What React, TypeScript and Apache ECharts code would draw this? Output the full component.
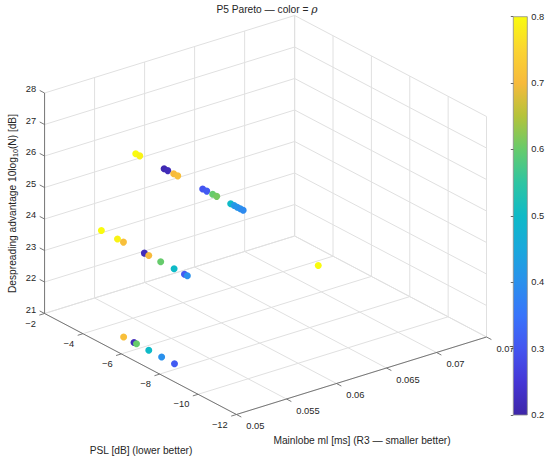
import React, { useEffect, useRef } from "react";
import * as echarts from "echarts";

// ---------- axis ticks ----------
const mainlobeTicks = [0.05, 0.055, 0.06, 0.065, 0.07, 0.075];
const mainlobeTickLabels = ["0.05", "0.055", "0.06", "0.065", "0.07", "0.075"];
const pslTicks = [-12, -10, -8, -6, -4, -2];
const pslTickLabels = ["\u221212", "\u221210", "\u22128", "\u22126", "\u22124", "\u22122"];
const despreadTicks = [21, 22, 23, 24, 25, 26, 27, 28];
const despreadTickLabels = ["21", "22", "23", "24", "25", "26", "27", "28"];
const rhoRange = [0.2, 0.8];

// ---------- data (Pareto points) ----------
const mainlobeMs = [
  0.0519, 0.0519, 0.0519, 0.0519, 0.0519, 0.0519, 0.0519, 0.0519, 0.0519, 0.0519, 0.0519, 0.0519, 0.0519, 0.0519, 0.0519,
  0.0519, 0.0519, 0.0519, 0.0519, 0.0519, 0.0519, 0.0519, 0.0519, 0.0519,
  0.0519, 0.0519, 0.0519, 0.0519, 0.0519, 0.0519,
  0.0727,
];
const pslDb = [
  -5.76, -5.97, -7.24, -7.43, -7.74, -7.95, -9.25, -9.46, -9.77, -9.98, -10.71, -10.89, -11.05, -11.21, -11.36,
  -3.97, -4.81, -5.12, -6.21, -6.44, -7.06, -7.76, -8.3, -8.45,
  -5.13, -5.67, -5.8, -6.44, -7.11, -7.78,
  -4.43,
];
const despreadDb = [
  27.09, 27.09, 27.09, 27.09, 27.09, 27.09, 27.09, 27.09, 27.09, 27.09, 27.09, 27.09, 27.09, 27.09, 27.09,
  24.08, 24.08, 24.08, 24.08, 24.08, 24.08, 24.08, 24.08, 24.08,
  21.07, 21.07, 21.07, 21.07, 21.07, 21.07,
  21.07,
];
const rhoVals = [
  0.8, 0.79, 0.21, 0.22, 0.7, 0.71, 0.3, 0.31, 0.6, 0.61, 0.5, 0.42, 0.41, 0.4, 0.39,
  0.8, 0.79, 0.71, 0.22, 0.7, 0.6, 0.5, 0.31, 0.4,
  0.71, 0.22, 0.6, 0.5, 0.4, 0.31,
  0.8,
];

// parula-like colormap, evenly spaced from rho 0.2 to 0.8
const parula = [
  "#3e26a8", "#4536d6", "#4455f0", "#3874fb", "#2a90ec", "#19a8dc", "#0ebac7",
  "#2ec5a2", "#66cb6c", "#b4c33a", "#f7ba3c", "#fbd431", "#f9fb0e",
];

// ---------- view (MATLAB default 3-D view) ----------
const VIEW_AZ = -37.5;
const VIEW_EL = 30;
const PROJ_KX = 315.2;
const PROJ_KY = 254.6;
const PROJ_CX = 265.55;
const PROJ_CY = 215.0;

const X0 = mainlobeTicks[0];
const X1 = mainlobeTicks[mainlobeTicks.length - 1];
const Y0 = pslTicks[0];
const Y1 = pslTicks[pslTicks.length - 1];
const Z0 = despreadTicks[0];
const Z1 = despreadTicks[despreadTicks.length - 1];

function project(x: number, y: number, z: number): number[] {
  const nx = (x - X0) / (X1 - X0) - 0.5;
  const ny = (y - Y0) / (Y1 - Y0) - 0.5;
  const nz = (z - Z0) / (Z1 - Z0) - 0.5;
  const A = (-VIEW_AZ * Math.PI) / 180;
  const E = (VIEW_EL * Math.PI) / 180;
  const u = PROJ_CX + PROJ_KX * (nx * Math.cos(A) - ny * Math.sin(A));
  const v = PROJ_CY - PROJ_KY * ((nx * Math.sin(A) + ny * Math.cos(A)) * Math.sin(E) + nz * Math.cos(E));
  return [u, v];
}

const FONT = "'Liberation Sans', Arial, Helvetica, sans-serif";
const TEXT = "#262626";
const AXIS_COLOR = "#6b6b6b";
const GRID_COLOR = "#e0e0e0";
const TICK_FONT = 9.3;
const LABEL_FONT = 10.2;

export default function App() {
  const ref = useRef<HTMLDivElement>(null);

  useEffect(() => {
    document.body.style.margin = "0";
    document.body.style.overflow = "hidden";
    if (!ref.current) return;
    const chart = echarts.init(ref.current, undefined, { renderer: "svg" });

    const TY = 0.0254 * (Y1 - Y0);
    const TX = 0.021 * (X1 - X0);

    const gridSegments: number[][] = [];
    mainlobeTicks.forEach((x) => {
      gridSegments.push([x, Y0, Z0, x, Y1, Z0]);
      gridSegments.push([x, Y1, Z0, x, Y1, Z1]);
    });
    pslTicks.forEach((y) => {
      gridSegments.push([X0, y, Z0, X1, y, Z0]);
      gridSegments.push([X1, y, Z0, X1, y, Z1]);
    });
    despreadTicks.forEach((z) => {
      gridSegments.push([X0, Y1, z, X1, Y1, z]);
      gridSegments.push([X1, Y0, z, X1, Y1, z]);
    });

    const axisSegments: number[][] = [
      [X0, Y1, Z0, X0, Y1, Z1],
      [X0, Y0, Z0, X0, Y1, Z0],
      [X0, Y0, Z0, X1, Y0, Z0],
    ];
    despreadTicks.forEach((z) => axisSegments.push([X0, Y1, z, X0, Y1 + TY, z]));
    pslTicks.forEach((y) => axisSegments.push([X0, y, Z0, X0 - TX, y, Z0]));
    mainlobeTicks.forEach((x) => axisSegments.push([x, Y0, Z0, x, Y0 - TY, Z0]));

    const segRender = (color: string, width: number) => (params: any, api: any) => {
      const a = api.coord(project(api.value(0), api.value(1), api.value(2)));
      const b = api.coord(project(api.value(3), api.value(4), api.value(5)));
      return {
        type: "line",
        silent: true,
        shape: { x1: a[0], y1: a[1], x2: b[0], y2: b[1] },
        style: { stroke: color, lineWidth: width },
      };
    };

    const labelRender =
      (labels: string[], dx: number, dy: number, align: string, vAlign: string) => (params: any, api: any) => {
        const p = api.coord(project(api.value(0), api.value(1), api.value(2)));
        return {
          type: "text",
          silent: true,
          x: p[0] + dx,
          y: p[1] + dy,
          style: {
            text: labels[params.dataIndex],
            fill: TEXT,
            fontSize: TICK_FONT,
            fontFamily: FONT,
            align,
            textAlign: align,
            verticalAlign: vAlign,
            textVerticalAlign: vAlign,
          },
        };
      };

    const points = mainlobeMs.map((m, i) => [m, pslDb[i], despreadDb[i], rhoVals[i]]);

    const option: any = {
      animation: false,
      backgroundColor: "#ffffff",
      grid: [
        { left: 0, top: 0, width: 550, height: 462 },
        { left: 513.3, top: 16.7, width: 14, height: 398.3 },
      ],
      xAxis: [
        { type: "value", gridIndex: 0, min: 0, max: 550, show: false },
        { type: "value", gridIndex: 1, min: 0, max: 1, show: false },
      ],
      yAxis: [
        { type: "value", gridIndex: 0, min: 0, max: 462, inverse: true, show: false },
        {
          type: "value",
          gridIndex: 1,
          min: rhoRange[0],
          max: rhoRange[1],
          interval: 0.1,
          position: "right",
          z: 10,
          axisLine: { show: false },
          splitLine: { show: false },
          axisTick: { show: true, inside: true, length: 2.5, lineStyle: { color: "#444", width: 0.8 } },
          axisLabel: { margin: 4, color: TEXT, fontSize: TICK_FONT, fontFamily: FONT },
        },
      ],
      visualMap: {
        type: "continuous",
        show: false,
        min: rhoRange[0],
        max: rhoRange[1],
        dimension: 3,
        seriesIndex: 5,
        inRange: { color: parula },
      },
      graphic: [
        {
          type: "text",
          x: 267,
          y: 9.5,
          silent: true,
          style: {
            text: "P5 Pareto \u2014 color = {i|\u03c1}",
            rich: { i: { fontStyle: "italic", fontSize: LABEL_FONT + 0.5, fontFamily: "'DejaVu Serif', serif", fill: TEXT } },
            fill: TEXT,
            fontSize: LABEL_FONT,
            fontFamily: FONT,
            align: "center",
            textAlign: "center",
            verticalAlign: "middle",
            textVerticalAlign: "middle",
          },
        },
        {
          type: "text",
          x: 12,
          y: 203.5,
          rotation: Math.PI / 2,
          silent: true,
          style: {
            text: "Despreading advantage 10log{s|10}(N) [dB]",
            rich: { s: { fontSize: 7.2, lineHeight: 8, verticalAlign: "bottom", fontFamily: FONT, fill: TEXT } },
            fill: TEXT,
            fontSize: LABEL_FONT,
            lineHeight: 14,
            fontFamily: FONT,
            align: "center",
            textAlign: "center",
            verticalAlign: "middle",
            textVerticalAlign: "middle",
          },
        },
        {
          type: "text",
          x: 141,
          y: 450.7,
          silent: true,
          style: {
            text: "PSL [dB] (lower better)",
            fill: TEXT,
            fontSize: LABEL_FONT,
            fontFamily: FONT,
            align: "center",
            textAlign: "center",
            verticalAlign: "middle",
            textVerticalAlign: "middle",
          },
        },
        {
          type: "text",
          x: 362,
          y: 440,
          silent: true,
          style: {
            text: "Mainlobe ml [ms] (R3 \u2014 smaller better)",
            fill: TEXT,
            fontSize: LABEL_FONT,
            fontFamily: FONT,
            align: "center",
            textAlign: "center",
            verticalAlign: "middle",
            textVerticalAlign: "middle",
          },
        },
      ],
      series: [
        {
          type: "custom",
          name: "grid",
          coordinateSystem: "cartesian2d",
          xAxisIndex: 0,
          yAxisIndex: 0,
          z: 1,
          silent: true,
          data: gridSegments,
          renderItem: segRender(GRID_COLOR, 1),
        },
        {
          type: "custom",
          name: "axes",
          coordinateSystem: "cartesian2d",
          xAxisIndex: 0,
          yAxisIndex: 0,
          z: 2,
          silent: true,
          data: axisSegments,
          renderItem: segRender(AXIS_COLOR, 0.9),
        },
        {
          type: "custom",
          name: "zTickLabels",
          coordinateSystem: "cartesian2d",
          xAxisIndex: 0,
          yAxisIndex: 0,
          z: 3,
          silent: true,
          data: despreadTicks.map((z) => [X0, Y1 + TY, z]),
          renderItem: labelRender(despreadTickLabels, -3.5, -1, "right", "middle"),
        },
        {
          type: "custom",
          name: "pslTickLabels",
          coordinateSystem: "cartesian2d",
          xAxisIndex: 0,
          yAxisIndex: 0,
          z: 3,
          silent: true,
          data: pslTicks.map((y) => [X0 - TX, y, Z0]),
          renderItem: labelRender(pslTickLabels, -3.5, 4, "right", "top"),
        },
        {
          type: "custom",
          name: "mainlobeTickLabels",
          coordinateSystem: "cartesian2d",
          xAxisIndex: 0,
          yAxisIndex: 0,
          z: 3,
          silent: true,
          data: mainlobeTicks.map((x) => [x, Y0 - TY, Z0]),
          renderItem: labelRender(mainlobeTickLabels, 5, 4.5, "left", "top"),
        },
        {
          type: "custom",
          name: "Pareto",
          coordinateSystem: "cartesian2d",
          xAxisIndex: 0,
          yAxisIndex: 0,
          z: 4,
          data: points,
          renderItem: (params: any, api: any) => {
            const p = api.coord(project(api.value(0), api.value(1), api.value(2)));
            return {
              type: "circle",
              shape: { cx: p[0], cy: p[1], r: 3.5 },
              style: { fill: api.visual("color") },
            };
          },
        },
        {
          type: "custom",
          name: "colorbar",
          coordinateSystem: "cartesian2d",
          xAxisIndex: 1,
          yAxisIndex: 1,
          z: 6,
          silent: true,
          data: [[0, rhoRange[0]]],
          renderItem: (params: any, api: any) => {
            const tl = api.coord([0, rhoRange[1]]);
            const br = api.coord([1, rhoRange[0]]);
            const stops = parula
              .slice()
              .reverse()
              .map((c, i) => ({ offset: i / (parula.length - 1), color: c }));
            return {
              type: "rect",
              shape: { x: tl[0], y: tl[1], width: br[0] - tl[0], height: br[1] - tl[1] },
              style: {
                fill: new echarts.graphic.LinearGradient(0, 0, 0, 1, stops),
                stroke: "#8c8c8c",
                lineWidth: 0.8,
              },
            };
          },
        },
      ],
    };

    chart.setOption(option);
    return () => chart.dispose();
  }, []);

  return <div ref={ref} style={{ width: 550, height: 462 }} />;
}
